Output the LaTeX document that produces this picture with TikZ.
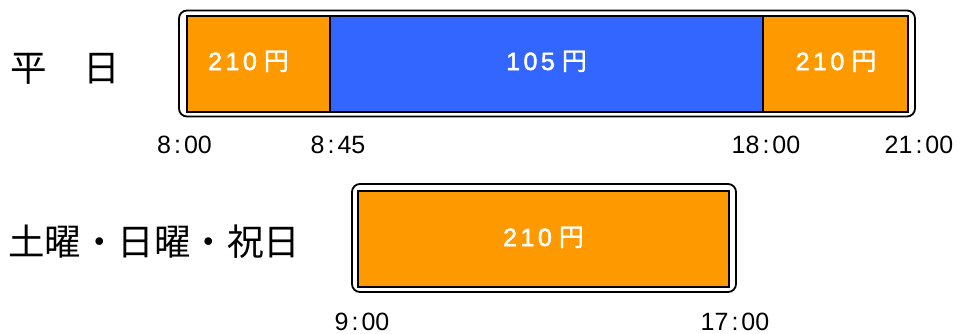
\documentclass[tikz,border=0pt]{standalone}
\usepackage{fontspec}
\setmainfont{Liberation Sans}
\newfontfamily\pricefont[FakeBold=2]{Liberation Sans}
\newfontfamily\jp{Noto Sans CJK JP}
\newfontfamily\jpp[FakeBold=1.5]{Noto Sans CJK JP}
\definecolor{orng}{HTML}{FF9900}
\definecolor{blu}{HTML}{3366FF}
\newcommand\yenmark{\kern7pt{\jpp 円}}
\newcommand\lsp{\kern3.5pt}
\newcommand\tcol{\kern3pt:\kern3pt}
\begin{document}
\begin{tikzpicture}[x=1pt,y=-1pt,
 frame/.style={draw=black,line width=1.8pt,rounded corners=8pt},
 seg/.style={draw=black,line width=1.6pt},
 price/.style={text=white,font=\pricefont\fontsize{25}{25}\selectfont,anchor=base,inner sep=0pt},
 timelbl/.style={font=\fontsize{25}{25}\selectfont,anchor=base,inner sep=0pt,text depth=0pt},
 daylbl/.style={font=\jp\fontsize{36.5}{36.5}\selectfont,anchor=west,inner sep=0pt}]
\useasboundingbox (0,0) rectangle (958,333);
% weekday
\draw[frame] (179,10.5) rectangle (915,116.5);
\fill[orng] (187,16) rectangle (330,112);
\fill[blu] (330,16) rectangle (763,112);
\fill[orng] (763,16) rectangle (908,112);
\draw[seg] (187,16) rectangle (908,112);
\draw[seg] (330,16) -- (330,112);
\draw[seg] (763,16) -- (763,112);
\node[price] (p1) at (248.5,70) {2\lsp1\lsp0\yenmark};
\node[price] (p2) at (546.5,70) {1\lsp0\lsp5\yenmark};
\node[price] (p3) at (836,70) {2\lsp1\lsp0\yenmark};
% weekend
\draw[frame] (352,184) rectangle (736,292);
\fill[orng] (358,191) rectangle (729,287);
\draw[seg] (358,191) rectangle (729,287);
\node[price] (p4) at (543.5,246) {2\lsp1\lsp0\yenmark};
% labels
\node[daylbl] (wd) at (10,69) {平　日};
\node[daylbl] (we) at (8,242) {土曜・日曜・祝日};
% times
\node[timelbl] (t1) at (184.5,153) {8\tcol00};
\node[timelbl] (t2) at (338,153) {8\tcol45};
\node[timelbl] (t3) at (766,153) {18\tcol00};
\node[timelbl] (t4) at (919,153) {21\tcol00};
\node[timelbl] (t5) at (362,330) {9\tcol00};
\node[timelbl] (t6) at (735,330) {17\tcol00};
\end{tikzpicture}
\end{document}
